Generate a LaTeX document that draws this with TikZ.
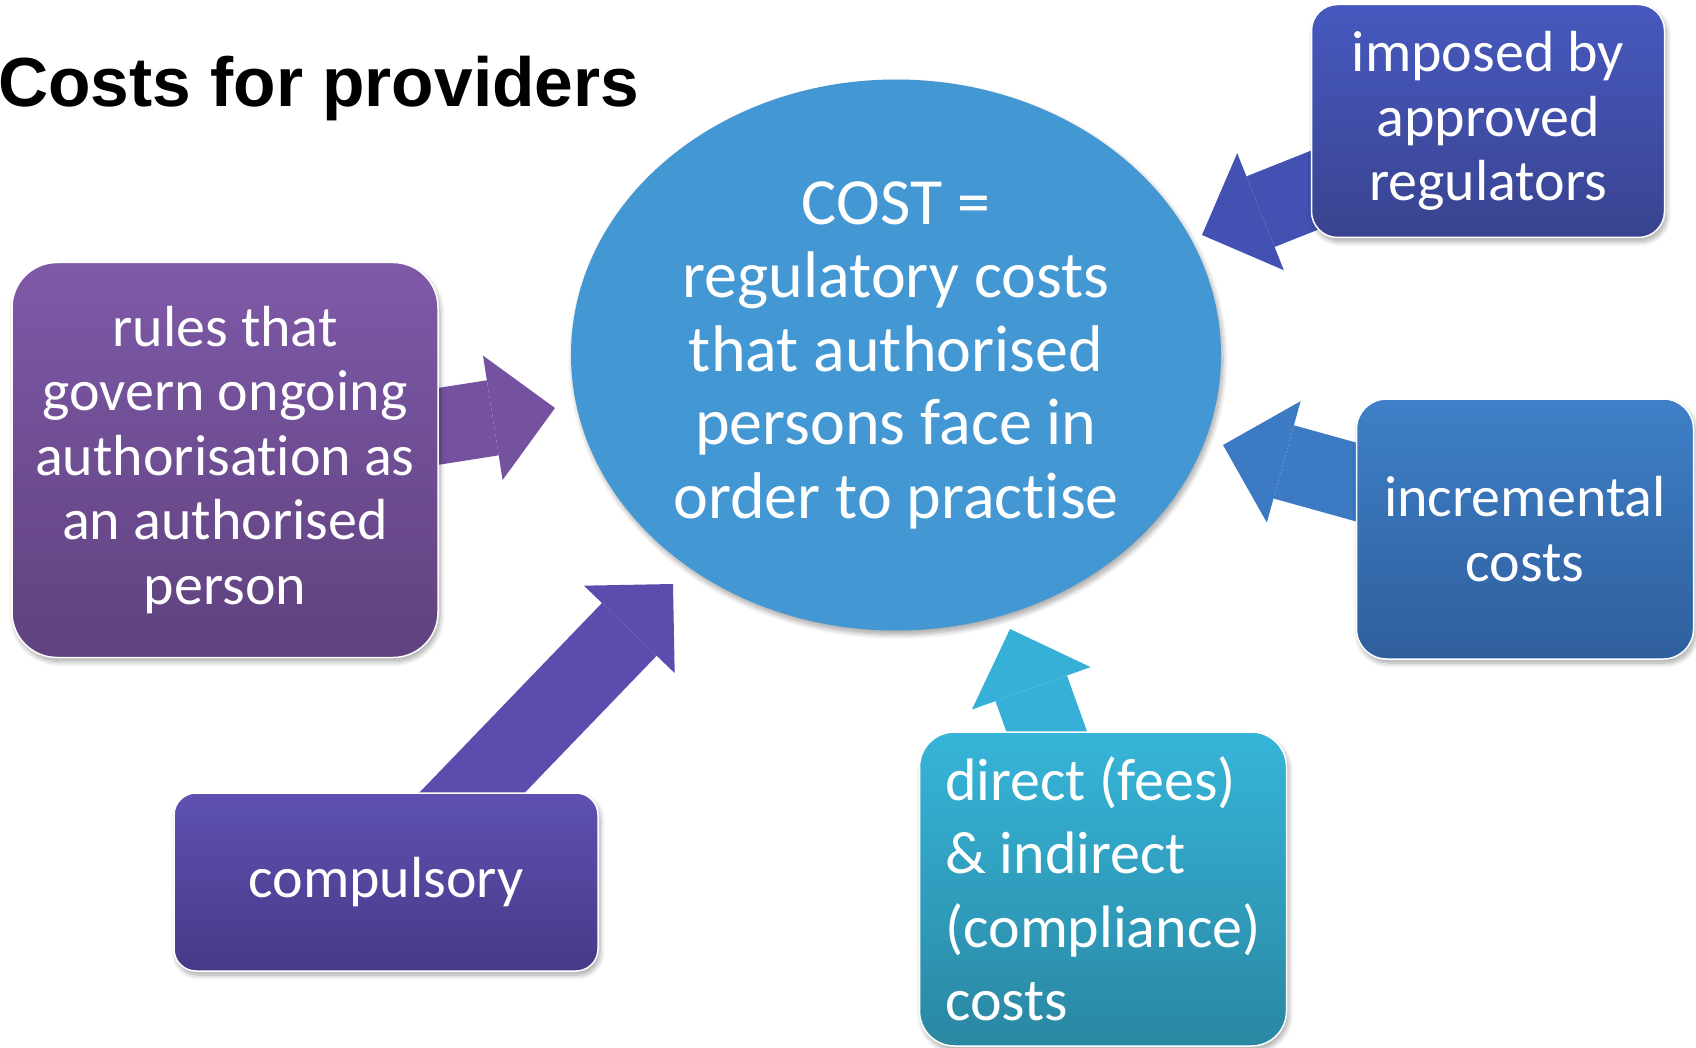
\documentclass[tikz,border=0pt]{standalone}
\usepackage{fontspec}
\setmainfont{Carlito}[Ligatures=NoCommon]
\newfontfamily\titlefont{Liberation Sans}
\usetikzlibrary{arrows.meta,shapes.geometric,shadows.blur}

\definecolor{ovalBlue}{HTML}{4397D3}
\definecolor{rulesTop}{HTML}{7E59A8}
\definecolor{rulesBot}{HTML}{5F427E}
\definecolor{imposedTop}{HTML}{4759BF}
\definecolor{imposedBot}{HTML}{39438F}
\definecolor{incTop}{HTML}{3E80C8}
\definecolor{incBot}{HTML}{2F5E9C}
\definecolor{compTop}{HTML}{5E51B1}
\definecolor{compBot}{HTML}{453A88}
\definecolor{directTop}{HTML}{36B5D9}
\definecolor{directBot}{HTML}{2A87A2}
\definecolor{arrowRules}{HTML}{7552A0}
\definecolor{arrowComp}{HTML}{5A4DAE}
\definecolor{arrowDirect}{HTML}{36B0D6}
\definecolor{arrowInc}{HTML}{3C7BC3}
\definecolor{arrowImposed}{HTML}{4352B2}

\pgfdeclarelayer{back}
\pgfsetlayers{back,main}

\tikzset{
  softshadow/.style={blur shadow={shadow xshift=2pt, shadow yshift=-4pt,
      shadow blur radius=5pt, shadow blur steps=8, shadow opacity=35}},
  costbox/.style={rectangle, draw=white, line width=1.5pt, text=white,
      align=center, inner sep=0pt, softshadow,
      font=\fontsize{58}{64.5}\selectfont},
  costoval/.style={ellipse, fill=ovalBlue, text=white, align=center,
      inner sep=0pt, minimum width=650pt, minimum height=551pt, softshadow,
      font=\fontsize{66}{73.5}\selectfont},
  costarrow/.style={draw=#1, line width=76pt,
      -{Triangle[length=63pt, width=126pt, line width=0pt]}}
}

\begin{document}
\begin{tikzpicture}[x=1pt,y=-1pt]
    \useasboundingbox (0,0) rectangle (1696,1048);

    % Title
    \node[anchor=base west, inner sep=0pt,
          font=\titlefont\bfseries\fontsize{69.5}{80}\selectfont]
          (title) at (-2,107) {Costs for providers};

    % Central cost
    \node[costoval] (cost) at (896,355)
        {COST =\\regulatory costs\\that authorised\\persons face in\\order to practise};

    % Surrounding boxes
    \node[costbox, rounded corners=45pt, minimum width=426pt, minimum height=395pt,
          top color=rulesTop, bottom color=rulesBot] (rules) at (225,460)
        {rules that\\govern ongoing\\authorisation as\\an authorised\\person};
    \node[costbox, rounded corners=26pt, minimum width=353pt, minimum height=233pt,
          top color=imposedTop, bottom color=imposedBot] (imposed) at (1488,121)
        {imposed by\\approved\\regulators};
    \node[costbox, rounded corners=30pt, minimum width=337pt, minimum height=260pt,
          top color=incTop, bottom color=incBot] (incremental) at (1525,529)
        {incremental\\costs};
    \node[costbox, rounded corners=22pt, minimum width=424pt, minimum height=178pt,
          top color=compTop, bottom color=compBot] (compulsory) at (386,882)
        {compulsory};
    \node[costbox, rounded corners=35pt, minimum width=367pt, minimum height=314pt,
          top color=directTop, bottom color=directBot, align=left,
          font=\fontsize{60}{73.5}\selectfont] (direct) at (1103,889)
        {direct (fees)\\\& indirect\\(compliance)\\costs};

    % Arrow tips near the cost
    \coordinate (tipRules) at (555,408);
    \coordinate (tipComp) at (673,584);
    \coordinate (tipDirect) at (1010,629);
    \coordinate (tipInc) at (1223,445);
    \coordinate (tipImposed) at (1202,235);

    % Block arrows, behind the boxes
    \begin{pgfonlayer}{back}
        \draw[costarrow=arrowRules] (rules.center) -- (tipRules);
        \draw[costarrow=arrowComp] (compulsory.center) -- (tipComp);
        \draw[costarrow=arrowDirect] (direct.center) -- (tipDirect);
        \draw[costarrow=arrowInc] (incremental.center) -- (tipInc);
        \draw[costarrow=arrowImposed] (imposed.center) -- (tipImposed);
    \end{pgfonlayer}
\end{tikzpicture}
\end{document}
